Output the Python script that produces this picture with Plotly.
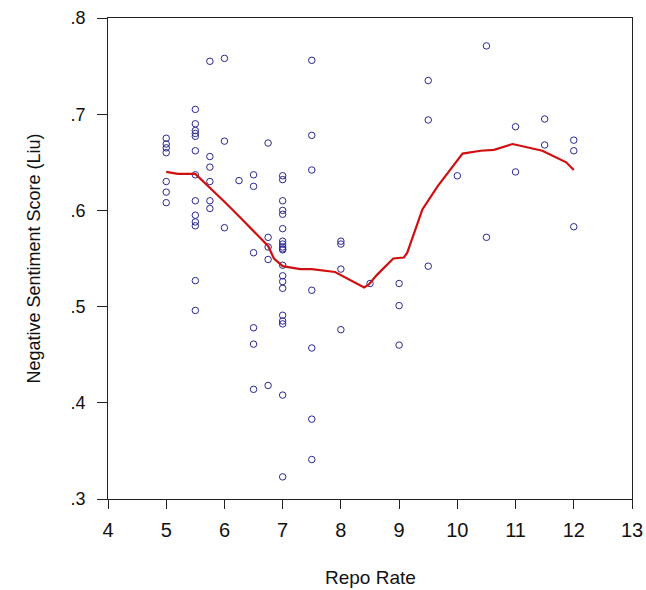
import plotly.graph_objects as go

# Scatter data (Repo Rate, Negative Sentiment Score)
x_pts = (
    [5.0]*7 +
    [5.5]*13 +
    [5.75]*6 +
    [6.0]*3 +
    [6.25] +
    [6.5]*6 +
    [6.75]*5 +
    [7.0]*20 +
    [7.5]*7 +
    [8.0]*4 +
    [8.5] +
    [9.0]*3 +
    [9.5]*3 +
    [10.0] +
    [10.5]*2 +
    [11.0]*2 +
    [11.5]*2 +
    [12.0]*3
)
y_pts = (
    [0.675, 0.669, 0.665, 0.660, 0.630, 0.619, 0.608] +
    [0.705, 0.690, 0.683, 0.680, 0.677, 0.662, 0.637, 0.610, 0.595, 0.588, 0.584, 0.527, 0.496] +
    [0.755, 0.656, 0.645, 0.630, 0.610, 0.602] +
    [0.758, 0.672, 0.582] +
    [0.631] +
    [0.637, 0.625, 0.556, 0.478, 0.461, 0.414] +
    [0.670, 0.572, 0.562, 0.549, 0.418] +
    [0.636, 0.632, 0.610, 0.600, 0.596, 0.581, 0.568, 0.565, 0.562, 0.559,
     0.543, 0.532, 0.526, 0.519, 0.491, 0.485, 0.482, 0.408, 0.323, 0.560] +
    [0.756, 0.678, 0.642, 0.517, 0.457, 0.383, 0.341] +
    [0.568, 0.565, 0.539, 0.476] +
    [0.524] +
    [0.524, 0.501, 0.460] +
    [0.735, 0.694, 0.542] +
    [0.636] +
    [0.771, 0.572] +
    [0.687, 0.640] +
    [0.695, 0.668] +
    [0.673, 0.662, 0.583]
)

# Smoothed (lowess) fit line
fit_x = [5.0, 5.2, 5.5, 5.75, 6.0, 6.25, 6.5, 6.75, 6.85, 7.0, 7.3, 7.5, 7.9, 8.02,
         8.4, 8.48, 8.62, 8.9, 9.08, 9.14, 9.4, 9.66, 10.09, 10.4, 10.63, 10.95,
         11.46, 11.87, 12.0]
fit_y = [0.640, 0.638, 0.638, 0.624, 0.609, 0.594, 0.578, 0.563, 0.550, 0.542, 0.539,
         0.539, 0.536, 0.532, 0.520, 0.523, 0.533, 0.550, 0.551, 0.556, 0.601, 0.625,
         0.659, 0.662, 0.663, 0.669, 0.662, 0.650, 0.642]

x_ticks = [4, 5, 6, 7, 8, 9, 10, 11, 12, 13]
y_ticks = [0.3, 0.4, 0.5, 0.6, 0.7, 0.8]
y_tick_text = [".3", ".4", ".5", ".6", ".7", ".8"]

fig = go.Figure()
fig.add_trace(go.Scatter(
    x=x_pts, y=y_pts, mode="markers",
    marker=dict(symbol="circle-open", size=6.5, color="#28288f", line=dict(width=1)),
    showlegend=False, hoverinfo="skip"))
fig.add_trace(go.Scatter(
    x=fit_x, y=fit_y, mode="lines",
    line=dict(color="#d01010", width=2.2),
    showlegend=False, hoverinfo="skip"))

fam = "Liberation Sans, Arial, sans-serif"
fig.update_layout(
    width=646, height=590,
    margin=dict(l=108, r=14, t=18, b=91),
    paper_bgcolor="white", plot_bgcolor="white",
    font=dict(family=fam, size=18, color="#111111"),
)
fig.update_xaxes(
    range=[4, 13], tickvals=x_ticks, ticks="outside", ticklen=9, tickcolor="#222",
    showline=True, linecolor="#222", linewidth=1, mirror=True,
    showgrid=False, zeroline=False, automargin=False,
    ticklabeloverflow="allow", ticklabelstandoff=4,
    tickfont=dict(family=fam, size=20, color="#111111"),
)
fig.update_yaxes(
    range=[0.3, 0.8], tickvals=y_ticks, ticktext=y_tick_text,
    ticks="outside", ticklen=10, tickcolor="#222",
    showline=True, linecolor="#222", linewidth=1, mirror=True,
    showgrid=False, zeroline=False, automargin=False,
    ticklabeloverflow="allow", ticklabelstandoff=8,
    tickfont=dict(family=fam, size=18, color="#111111"),
)
fig.add_annotation(
    text="Repo Rate", xref="paper", yref="paper", x=0.5, y=0,
    xanchor="center", yanchor="middle", yshift=-78, showarrow=False,
    font=dict(family=fam, size=19, color="#111111"))
fig.add_annotation(
    text="Negative Sentiment Score (Liu)", xref="paper", yref="paper", x=0, y=0.5,
    xanchor="center", yanchor="middle", xshift=-75, textangle=-90, showarrow=False,
    font=dict(family=fam, size=18, color="#111111"))
fig.write_html(
    "out.html",
    config={"displayModeBar": False},
    post_script="document.body.style.margin='0';document.body.style.overflow='hidden';"
                "document.documentElement.style.overflow='hidden';",
)
